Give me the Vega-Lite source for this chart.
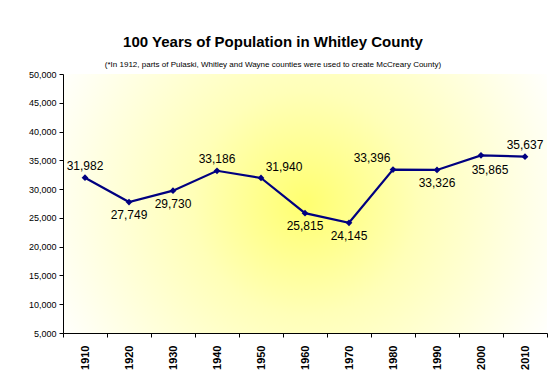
{
  "$schema": "https://vega.github.io/schema/vega-lite/v6.json",
  "width": 484,
  "height": 259,
  "autosize": "none",
  "padding": {"left": 63, "top": 74, "right": 3, "bottom": 52},
  "background": "white",
  "title": {
    "text": "100 Years of Population in Whitley County",
    "subtitle": "(*In 1912, parts of Pulaski, Whitley and Wayne counties were used to create McCreary County)",
    "anchor": "middle",
    "frame": "group",
    "dx": -32,
    "font": "Liberation Sans",
    "fontSize": 15,
    "fontWeight": "bold",
    "color": "black",
    "subtitleFont": "Liberation Sans",
    "subtitleFontSize": 8,
    "subtitleColor": "black",
    "subtitlePadding": 11,
    "offset": 1
  },
  "data": {
    "values": [
      {"year": "1910", "pop": 31982},
      {"year": "1920", "pop": 27749},
      {"year": "1930", "pop": 29730},
      {"year": "1940", "pop": 33186},
      {"year": "1950", "pop": 31940},
      {"year": "1960", "pop": 25815},
      {"year": "1970", "pop": 24145},
      {"year": "1980", "pop": 33396},
      {"year": "1990", "pop": 33326},
      {"year": "2000", "pop": 35865},
      {"year": "2010", "pop": 35637}
    ]
  },
  "encoding": {
    "x": {
      "field": "year",
      "type": "ordinal",
      "scale": {"type": "band", "paddingInner": 0, "paddingOuter": 0},
      "axis": {
        "title": null,
        "labelAngle": -90,
        "labelAlign": "right",
        "labelBaseline": "middle",
        "labelFont": "Liberation Sans",
        "labelFontSize": 11,
        "labelFontWeight": "bold",
        "labelColor": "black",
        "labelPadding": 8,
        "tickBand": "extent",
        "tickSize": 4,
        "tickColor": "black",
        "domainColor": "black",
        "grid": false
      }
    },
    "y": {
      "field": "pop",
      "type": "quantitative",
      "scale": {"domain": [5000, 50000], "nice": false, "zero": false},
      "axis": {
        "title": null,
        "values": [5000, 10000, 15000, 20000, 25000, 30000, 35000, 40000, 45000, 50000],
        "format": ",d",
        "labelFont": "Liberation Sans",
        "labelFontSize": 9,
        "labelColor": "black",
        "labelPadding": 3,
        "tickSize": 4,
        "tickColor": "black",
        "domainColor": "black",
        "grid": false
      }
    }
  },
  "layer": [
    {
      "mark": {"type": "line", "color": "#000080", "strokeWidth": 2.2}
    },
    {
      "mark": {"type": "point", "shape": "diamond", "filled": true, "color": "#000080", "size": 45, "opacity": 1}
    },
    {
      "transform": [{"filter": {"field": "year", "oneOf": ["1910", "1940", "2010"]}}],
      "mark": {"type": "text", "font": "Liberation Sans", "fontSize": 12, "color": "black", "baseline": "alphabetic", "dy": -8},
      "encoding": {"text": {"field": "pop", "type": "quantitative", "format": ",d"}}
    },
    {
      "transform": [{"filter": {"field": "year", "oneOf": ["1950"]}}],
      "mark": {"type": "text", "font": "Liberation Sans", "fontSize": 12, "color": "black", "baseline": "alphabetic", "dy": -7, "dx": 23},
      "encoding": {"text": {"field": "pop", "type": "quantitative", "format": ",d"}}
    },
    {
      "transform": [{"filter": {"field": "year", "oneOf": ["1980"]}}],
      "mark": {"type": "text", "font": "Liberation Sans", "fontSize": 12, "color": "black", "baseline": "alphabetic", "dy": -8, "dx": -21},
      "encoding": {"text": {"field": "pop", "type": "quantitative", "format": ",d"}}
    },
    {
      "transform": [{"filter": {"field": "year", "oneOf": ["1920", "1930", "1960", "1970", "1990"]}}],
      "mark": {"type": "text", "font": "Liberation Sans", "fontSize": 12, "color": "black", "baseline": "top", "dy": 8},
      "encoding": {"text": {"field": "pop", "type": "quantitative", "format": ",d"}}
    },
    {
      "transform": [{"filter": {"field": "year", "oneOf": ["2000"]}}],
      "mark": {"type": "text", "font": "Liberation Sans", "fontSize": 12, "color": "black", "baseline": "top", "dy": 10, "dx": 9},
      "encoding": {"text": {"field": "pop", "type": "quantitative", "format": ",d"}}
    }
  ],
  "config": {
    "view": {
      "stroke": null,
      "fill": {
        "gradient": "radial",
        "x1": 0.5, "y1": 0.5, "r1": 0,
        "x2": 0.5, "y2": 0.5, "r2": 0.58,
        "stops": [
          {"offset": 0, "color": "#FFFF70"},
          {"offset": 0.4, "color": "#FFFFB8"},
          {"offset": 1, "color": "#FFFFFF"}
        ]
      }
    }
  }
}
